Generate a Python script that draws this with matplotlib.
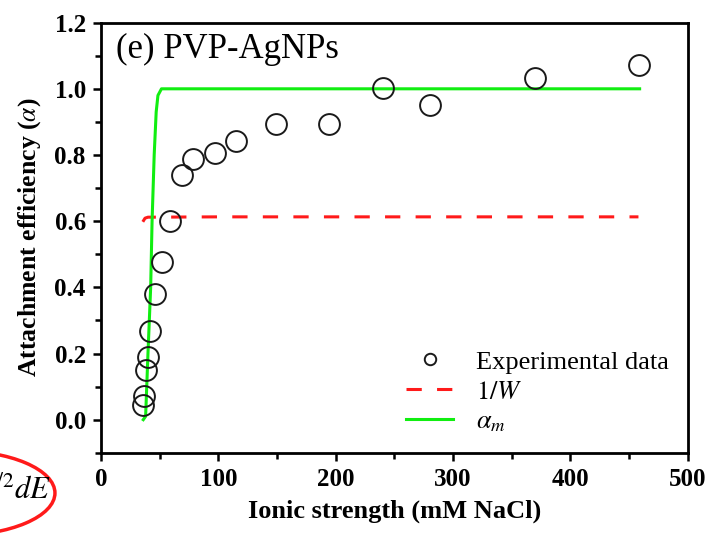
import numpy as np
import matplotlib
matplotlib.use("Agg")
import matplotlib.pyplot as plt
from matplotlib.patches import Ellipse

plt.rcParams['font.family'] = ['Liberation Serif', 'DejaVu Serif']
plt.rcParams['mathtext.fontset'] = 'stix'

# experimental points
ionic = [35.6, 37.0, 38.5, 39.9, 41.9, 46.2, 51.7, 59.0, 69.2, 78.4,
         96.8, 114.8, 149.0, 194.0, 240.4, 280.3, 369.8, 458.7]
alpha_exp = [0.044, 0.073, 0.149, 0.188, 0.267, 0.380, 0.477, 0.601, 0.741, 0.789,
             0.806, 0.842, 0.893, 0.893, 1.002, 0.952, 1.034, 1.071]

# 1/W curve
w_x = [35.6, 37.5, 40.0, 100.0, 200.0, 300.0, 400.0, 458.0]
w_y = [0.598, 0.609, 0.612, 0.613, 0.613, 0.613, 0.613, 0.613]

# alpha_m curve
am_x = [36.0, 38.0, 40.0, 42.3, 43.5, 45.3, 47.0, 48.5, 51.5, 100.0, 200.0, 300.0, 400.0, 459.0]
am_y = [0.0, 0.01, 0.2, 0.4, 0.6, 0.8, 0.93, 0.98, 1.0, 1.0, 1.0, 1.0, 1.0, 1.0]

fig = plt.figure(figsize=(7.09, 5.39), dpi=100)
ax = fig.add_axes([0.1425, 0.160, 0.8275, 0.798])

ax.plot(ionic, alpha_exp, 'o', ms=15, mfc='none', mec='#1a1a1a', mew=1.4,
        label='Experimental data', zorder=3)
ax.plot(w_x, w_y, color='#ff1a1a', lw=2.2, dashes=(5, 5), label=r'$1/W$')
ax.plot(am_x, am_y, color='#11ee11', lw=2.2, label=r'$\alpha_m$')

ax.set_xlim(0, 500)
ax.set_ylim(-0.1, 1.2)
ax.set_xticks(np.arange(0, 501, 100))
ax.set_xticks(np.arange(0, 501, 50), minor=True)
ax.set_yticks(np.arange(0, 1.21, 0.2))
ax.set_yticks(np.arange(-0.1, 1.21, 0.1), minor=True)
ax.tick_params(which='major', direction='out', length=6, width=1.8, labelsize=18, pad=5)
ax.tick_params(which='minor', direction='out', length=4, width=1.8)
for lab in ax.get_xticklabels() + ax.get_yticklabels():
    lab.set_fontweight('bold')
for s in ax.spines.values():
    s.set_linewidth(2)

ax.set_xlabel('Ionic strength (mM NaCl)', fontsize=19, fontweight='bold', labelpad=6)
ax.set_ylabel(r'Attachment efficiency ($\alpha$)', fontsize=18.5, fontweight='bold', labelpad=8)

ax.text(0.025, 0.937, '(e) PVP-AgNPs', transform=ax.transAxes, fontsize=25, va='center')

ax.legend(loc='lower right', frameon=False, fontsize=19, handlelength=1.75,
          markerscale=0.55, borderaxespad=0.3, labelspacing=0.25, handletextpad=0.9)

# cropped fragment at the bottom-left corner
fig.patches.append(Ellipse((-0.0635, 0.0853), 0.282, 0.158, transform=fig.transFigure,
                           fill=False, edgecolor='#ff1a1a', lw=2.5))
fig.text(0.072, 0.075, r'$^{1/2}dE$', fontsize=22, ha='right', va='baseline')

fig.savefig('out.png', dpi=100)
